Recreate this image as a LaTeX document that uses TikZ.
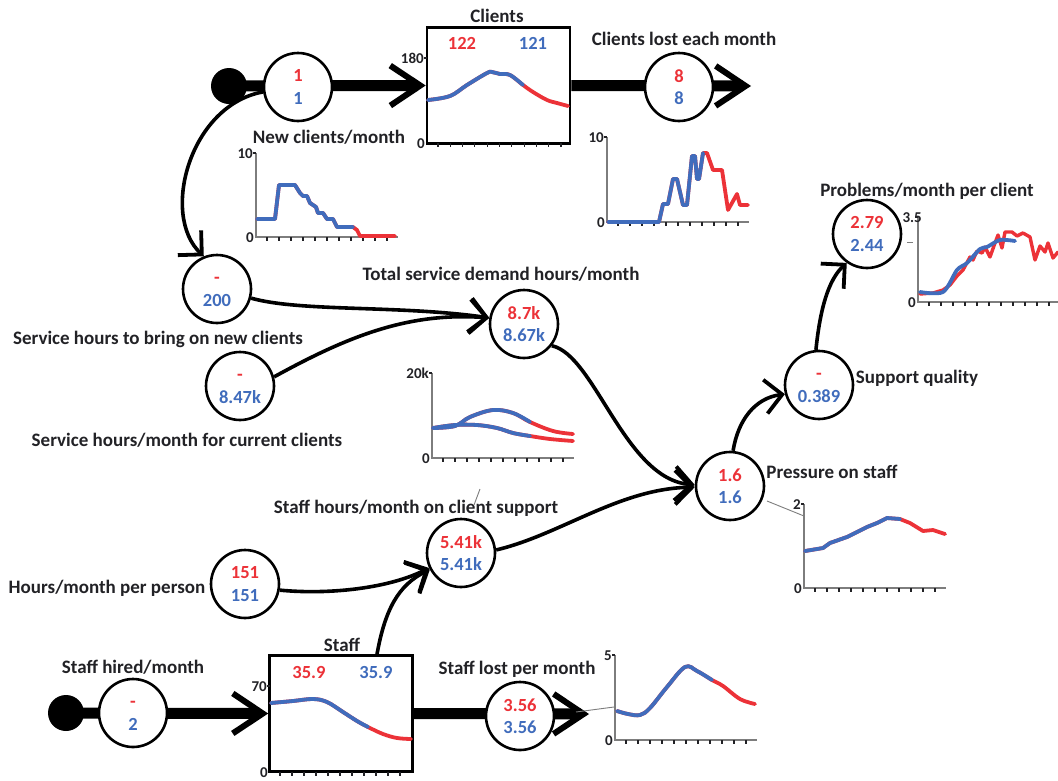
\documentclass[tikz,border=0pt]{standalone}
\usepackage{fontspec}
\setmainfont{Carlito}
\usetikzlibrary{arrows.meta}
\pgfdeclarelayer{background}
\pgfsetlayers{background,main}
\definecolor{vred}{RGB}{236,50,56}
\definecolor{vblue}{RGB}{64,108,188}
\definecolor{ink}{RGB}{34,34,38}
\definecolor{axisgray}{RGB}{125,125,125}

\newcommand{\twovals}[2]{\textcolor{vred}{\vphantom{0}#1}\\\textcolor{vblue}{\vphantom{0}#2}}

% axes of a small time chart: name, x of the axis, y of the top value, y of zero, top value
\newcommand{\sdchart}[5]{%
  \draw[axisline] (#2,#3) -- (#2,#4) -- ({#2+142},#4);
  \foreach \k in {0,...,10} \draw[tickmark] ({#2+11+12*\k},#4) -- ++(0,4);
  \draw[tickmark] ({#2-3},#3) -- (#2,#3);
  \node[axlbl, anchor=east] (#1top) at ({#2-3},#3) {#5};
  \node[axlbl, anchor=east] (#1zero) at ({#2-2},#4) {0};
}

\tikzset{
  lbl/.style={font=\fontsize{19}{22}\selectfont\bfseries, text=ink, inner sep=0pt,
              text height=12pt, text depth=0pt},
  axlbl/.style={font=\fontsize{15}{16}\selectfont\bfseries, text=ink, inner sep=0pt,
              text height=10pt, text depth=0pt},
  val/.style={circle, draw=black, line width=2.6pt, fill=white, minimum size=68pt,
              inner sep=0pt, align=center, font=\fontsize{18.5}{22.5}\selectfont\bfseries},
  stockval/.style={font=\fontsize{18.5}{22}\selectfont\bfseries, inner sep=0pt,
              text height=12pt, text depth=0pt},
  stock/.style={draw=black, line width=2.6pt, fill=white, minimum width=143pt,
              minimum height=116pt, inner sep=0pt},
  source/.style={circle, fill=black, minimum size=36pt, inner sep=0pt},
  pipe/.style={line width=11pt, -{Straight Barb[length=30pt, width=40pt, line width'=6pt]}},
  link/.style={line width=3.6pt, -{Straight Barb[length=17pt, width=34pt, line width'=3.8pt]}},
  pointer/.style={draw=axisgray, line width=0.9pt},
  axisline/.style={draw=axisgray, line width=1.3pt},
  tickmark/.style={draw=ink, line width=1.1pt},
  redline/.style={draw=vred, line width=3.8pt, line join=round, line cap=round},
  blueline/.style={draw=vblue, line width=3.8pt, line join=round, line cap=round},
}

\begin{document}
\begin{tikzpicture}[x=1pt,y=-1pt]
\useasboundingbox (0,0) rectangle (1058,780);
\begin{pgfonlayer}{background}
  \fill[white] (0,0) rectangle (1058,780);
\end{pgfonlayer}

% ---------------- clients stock and its flows ----------------
\node[source] (src1) at (229,86) {};
\node[stock] (clients) at (498.5,85.5) {};
\node[lbl] (clientsT) at (497,16) {Clients};
\node[stockval, text=vred] (clientsR) at (462,43) {122};
\node[stockval, text=vblue] (clientsB) at (533,43) {121};
\node[axlbl, anchor=east] (clientsTop) at (424,58) {180};
\node[axlbl, anchor=east] (clientsZero) at (425,143) {0};
\draw[tickmark] (424,58) -- (427,58);
\foreach \k in {0,...,10} \draw[tickmark] ({438+12.3*\k},143) -- ++(0,4);
\draw[redline] plot[smooth, tension=0.6] coordinates {(428,100) (450,96) (467,85) (487,73) (492,72) (500,74) (510,75) (523,85) (533,92) (547,100) (557,103) (568,106)};
\draw[blueline] plot[smooth, tension=0.6] coordinates {(428,100) (450,96) (467,85) (487,73) (492,72) (500,74) (510,75) (523,85)};

\coordinate (sink1) at (751,86);
\begin{pgfonlayer}{background}
  \draw[pipe] (src1.center) -- (clients.west);
  \draw[pipe] (clients.east) -- (sink1);
\end{pgfonlayer}

\node[val] (nc) at (298,87) {\twovals{1}{1}};
\node[lbl] (ncT) at (329,137) {New clients/month};
\node[val] (lost) at (679,87) {\twovals{8}{8}};
\node[lbl] (lostT) at (684,39) {Clients lost each month};

% new clients chart
\sdchart{ncc}{256}{153}{237}{10}
\draw[redline] plot coordinates {(257,219) (275,219) (279,185) (295,185) (300,193) (303,196) (307,196) (310,203) (316,207) (318,213) (323,213) (327,219) (333,219) (337,227) (353,227) (357,230) (360,236) (395,236)};
\draw[blueline] plot coordinates {(257,219) (275,219) (279,185) (295,185) (300,193) (303,196) (307,196) (310,203) (316,207) (318,213) (323,213) (327,219) (333,219) (337,227) (353,227)};

% clients lost chart
\sdchart{clc}{607}{137}{222}{10}
\draw[redline] plot coordinates {(608,222) (659,222) (663,204) (668,204) (673,179) (677,179) (683,205) (687,205) (692,156) (695,156) (697,179) (699,179) (703,153) (707,153) (713,170) (722,170) (728,210) (737,194) (740,205) (748,205)};
\draw[blueline] plot coordinates {(608,222) (659,222) (663,204) (668,204) (673,179) (677,179) (683,205) (687,205) (692,156) (695,156) (697,179) (699,179) (703,153)};

% ---------------- service demand ----------------
\node[val] (svcnew) at (217,289) {\twovals{-}{200}};
\node[lbl] (svcnewT) at (158,338) {Service hours to bring on new clients};
\node[val] (svccur) at (240,386) {\twovals{-}{8.47k}};
\node[lbl] (svccurT) at (187,440) {Service hours/month for current clients};
\node[val] (total) at (524,324) {\twovals{8.7k}{8.67k}};
\node[lbl] (totalT) at (501,274) {Total service demand hours/month};

\sdchart{tdc}{432}{373}{458}{20k}
\draw[redline] plot[smooth, tension=0.6] coordinates {(433,428) (455,426) (470,417) (493,410) (513,413) (530,422) (553,431) (573,434)};
\draw[redline] plot[smooth, tension=0.6] coordinates {(433,428) (455,425) (477,425) (497,428) (513,433) (530,436) (550,439) (573,441)};
\draw[blueline] plot[smooth, tension=0.6] coordinates {(433,428) (455,426) (470,417) (493,410) (513,413) (530,422)};
\draw[blueline] plot[smooth, tension=0.6] coordinates {(433,428) (455,425) (477,425) (497,428) (513,433) (530,436)};

% ---------------- staff stock and its flows ----------------
\node[source] (src2) at (66,713) {};
\node[stock] (staff) at (341,713.5) {};
\node[lbl] (staffT) at (342,645) {Staff};
\node[stockval, text=vred] (staffR) at (309,672) {35.9};
\node[stockval, text=vblue] (staffB) at (376,672) {35.9};
\node[axlbl, anchor=east] (staffTop) at (267,686) {70};
\node[axlbl, anchor=east] (staffZero) at (268,772) {0};
\draw[tickmark] (267,686) -- (270,686);
\foreach \k in {0,...,10} \draw[tickmark] ({280+12*\k},772) -- ++(0,4);
\draw[redline] plot[smooth, tension=0.6] coordinates {(271,703) (293,701) (313,699) (327,702) (343,712) (357,721) (368,727) (383,734) (397,738) (411,739)};
\draw[blueline] plot[smooth, tension=0.6] coordinates {(271,703) (293,701) (313,699) (327,702) (343,712) (357,721) (368,727)};

\coordinate (sink2) at (589,714);
\begin{pgfonlayer}{background}
  \draw[pipe] (src2.center) -- (staff.west);
  \draw[pipe] (staff.east) -- (sink2);
\end{pgfonlayer}

\node[val] (hired) at (133,713) {\twovals{-}{2}};
\node[lbl] (hiredT) at (133,667) {Staff hired/month};
\node[val] (stafflost) at (520,716) {\twovals{3.56}{3.56}};
\node[lbl] (stafflostT) at (517,668) {Staff lost per month};

\sdchart{slc}{615}{655}{740}{5}
\draw[redline] plot[smooth, tension=0.6] coordinates {(617,711) (628,714) (640,715) (650,708) (667,687) (685,667) (697,671) (712,680) (723,686) (740,699) (755,704)};
\draw[blueline] plot[smooth, tension=0.6] coordinates {(617,711) (628,714) (640,715) (650,708) (667,687) (685,667) (697,671) (712,680)};
\coordinate (slp1) at (576,712);
\coordinate (slp2) at (614,707);
\draw[pointer] (slp1) -- (slp2);

% ---------------- staff capacity and pressure ----------------
\node[val] (hours) at (245,584) {\twovals{151}{151}};
\node[lbl] (hoursT) at (107,587) {Hours/month per person};
\node[val] (staffhrs) at (461,553) {\twovals{5.41k}{5.41k}};
\node[lbl] (staffhrsT) at (416,507) {Staff hours/month on client support};
\coordinate (shp1) at (480,489);
\coordinate (shp2) at (474,505);
\draw[pointer] (shp1) -- (shp2);

\node[val] (pressure) at (730,486) {\twovals{1.6}{1.6}};
\node[lbl] (pressureT) at (832,472) {Pressure on staff};
\sdchart{psc}{804}{504}{588}{2}
\draw[redline] plot coordinates {(805,551) (823,548) (830,543) (847,537) (867,527) (877,523) (887,518) (900,519) (910,523) (923,531) (933,530) (945,534)};
\draw[blueline] plot coordinates {(805,551) (823,548) (830,543) (847,537) (867,527) (877,523) (887,518) (900,519)};
\coordinate (psp1) at (767,501);
\coordinate (psp2) at (804,516);
\draw[pointer] (psp1) -- (psp2);

\node[val] (support) at (819,385) {\twovals{-}{0.389}};
\node[lbl] (supportT) at (917,377) {Support quality};

\node[val] (problems) at (867,234) {\twovals{2.79}{2.44}};
\node[lbl] (problemsT) at (927,190) {Problems/month per client};
\draw[axisline] (918,217) -- (918,302) -- (1058,302);
\foreach \k in {0,...,11} \draw[tickmark] ({929+12*\k},302) -- ++(0,4);
\draw[tickmark] (915,217) -- (918,217);
\node[axlbl, anchor=east] (pqcTop) at (922,217) {3.5};
\node[axlbl, anchor=east] (pqcZero) at (916,302) {0};
\coordinate (pqp1) at (907,242);
\coordinate (pqp2) at (913,242);
\draw[pointer] (pqp1) -- (pqp2);
\draw[redline, line width=3.4pt] plot coordinates {(920,294) (933,293) (943,290) (950,285) (957,276) (963,270) (970,257) (973,260) (977,251) (982,253) (985,247) (990,257) (995,243) (998,235) (1002,248) (1005,232) (1012,232) (1017,236) (1023,233) (1030,237) (1035,260) (1040,246) (1045,252) (1048,243) (1053,258) (1058,252)};
\draw[blueline] plot[smooth, tension=0.5] coordinates {(920,292) (943,292) (957,270) (967,263) (980,249) (987,247) (1000,240) (1015,241)};

% ---------------- causal links ----------------
\draw[link] (nc.188) .. controls (190,105) and (160,215) .. (svcnew.112);
\draw[link] (svcnew.-15) .. controls (300,312) and (400,305) .. (total.170);
\draw[link] (svccur.15) .. controls (350,335) and (410,312) .. (total.170);
\draw[link] (total.-38) .. controls (595,355) and (625,480) .. (pressure.178);
\draw[link] (staffhrs.5) .. controls (560,535) and (620,488) .. (pressure.182);
\draw[link] (hours.-10) .. controls (330,595) and (390,588) .. (staffhrs.205);
\draw[link] ([xshift=36pt]staff.north) .. controls (385,610) and (398,585) .. (staffhrs.208);
\draw[link] (pressure.85) .. controls (738,420) and (755,398) .. (support.195);
\draw[link] (support.95) .. controls (820,310) and (828,280) .. (problems.235);
\end{tikzpicture}
\end{document}
